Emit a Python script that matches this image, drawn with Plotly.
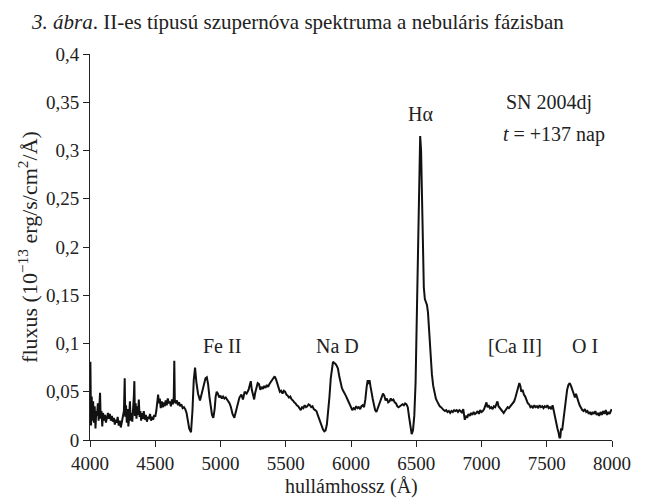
import plotly.graph_objects as go

wavelength = [
4000,4003,4008,4013,4018,4024,4030,4036,4042,4048,4054,4060,4066,4072,4077,4082,4088,4094,4100,4108,
4115,4122,4130,4138,4145,4152,4160,4168,4175,4183,4190,4198,4205,4212,4220,4228,4236,4244,4252,4260,
4266,4270,4276,4282,4288,4294,4300,4306,4312,4318,4324,4330,4336,4340,4344,4350,4356,4362,4368,4374,
4380,4386,4392,4398,4405,4412,4420,4428,4436,4444,4452,4460,4468,4476,4484,4492,4500,4508,4515,4522,
4528,4535,4542,4550,4558,4565,4572,4580,4588,4596,4604,4612,4620,4628,4636,4642,4646,4650,4658,4666,
4674,4682,4690,4700,4710,4720,4730,4740,4750,4760,4774,4785,4795,4805,4815,4828,4843,4855,4870,4885,
4895,4905,4915,4925,4935,4945,4955,4963,4971,4980,4990,5000,5010,5020,5030,5040,5050,5060,5070,5080,
5092,5106,5118,5130,5145,5160,5172,5185,5200,5215,5225,5232,5240,5250,5258,5266,5276,5285,5295,5305,
5315,5325,5335,5345,5355,5365,5375,5385,5395,5405,5415,5425,5435,5445,5455,5465,5475,5485,5495,5505,
5515,5525,5535,5545,5555,5565,5575,5585,5595,5605,5615,5625,5635,5645,5655,5665,5675,5685,5695,5705,
5715,5725,5735,5745,5755,5765,5775,5785,5795,5805,5815,5825,5835,5845,5855,5862,5870,5880,5890,5900,
5910,5920,5930,5940,5950,5960,5970,5980,5990,6000,6010,6020,6030,6040,6050,6060,6070,6080,6090,6100,
6110,6120,6128,6135,6142,6150,6158,6166,6175,6185,6195,6205,6215,6225,6235,6245,6255,6265,6275,6285,
6295,6305,6315,6325,6335,6345,6355,6365,6375,6385,6395,6405,6415,6425,6435,6445,6455,6465,6475,6485,
6495,6505,6515,6522,6530,6537,6543,6550,6558,6566,6574,6582,6590,6600,6610,6620,6630,6640,6650,6660,
6670,6680,6690,6700,6710,6720,6730,6740,6750,6760,6770,6780,6790,6800,6810,6820,6830,6840,6850,6860,
6866,6872,6880,6890,6900,6910,6920,6930,6940,6950,6960,6970,6980,6990,7000,7010,7020,7030,7038,7046,
7055,7065,7075,7085,7095,7105,7115,7122,7130,7140,7150,7160,7170,7180,7190,7200,7210,7220,7230,7240,
7250,7260,7270,7280,7290,7298,7305,7315,7325,7335,7345,7355,7365,7375,7385,7395,7405,7415,7425,7435,
7445,7455,7465,7475,7485,7495,7505,7515,7525,7535,7545,7553,7562,7572,7582,7590,7598,7604,7610,7618,
7626,7636,7646,7656,7666,7676,7686,7696,7706,7716,7724,7732,7742,7752,7762,7772,7782,7792,7802,7812,
7822,7832,7842,7852,7862,7872,7882,7892,7902,7912,7922,7932,7942,7952,7962,7972,7982,7990,7997,
]

flux = [
0.030,0.081,0.015,0.045,0.020,0.040,0.018,0.035,0.012,0.030,0.025,0.038,0.020,0.032,0.049,0.022,0.030,0.014,0.028,0.020,
0.026,0.018,0.024,0.028,0.022,0.027,0.020,0.025,0.019,0.023,0.016,0.021,0.018,0.024,0.015,0.020,0.013,0.018,0.022,0.030,
0.064,0.024,0.036,0.018,0.032,0.014,0.024,0.040,0.020,0.028,0.019,0.030,0.045,0.061,0.025,0.038,0.022,0.035,0.026,0.042,
0.024,0.030,0.020,0.028,0.022,0.030,0.021,0.026,0.019,0.024,0.022,0.027,0.020,0.024,0.021,0.026,0.024,0.030,0.040,0.047,
0.038,0.043,0.033,0.040,0.034,0.039,0.035,0.041,0.036,0.043,0.038,0.040,0.035,0.042,0.037,0.045,0.082,0.040,0.038,0.041,
0.036,0.039,0.035,0.037,0.033,0.034,0.032,0.028,0.020,0.012,0.008,0.030,0.062,0.075,0.060,0.048,0.041,0.048,0.058,0.064,
0.065,0.058,0.045,0.034,0.026,0.023,0.032,0.045,0.050,0.048,0.044,0.046,0.043,0.045,0.043,0.044,0.042,0.041,0.038,0.034,
0.027,0.023,0.030,0.038,0.044,0.047,0.042,0.050,0.048,0.052,0.058,0.061,0.052,0.044,0.042,0.049,0.055,0.059,0.058,0.052,
0.055,0.053,0.056,0.054,0.057,0.055,0.058,0.060,0.062,0.064,0.066,0.063,0.058,0.053,0.050,0.051,0.048,0.051,0.050,0.047,
0.046,0.044,0.045,0.042,0.041,0.039,0.038,0.036,0.035,0.033,0.031,0.034,0.033,0.036,0.034,0.035,0.037,0.036,0.034,0.035,
0.032,0.031,0.030,0.026,0.022,0.018,0.014,0.011,0.009,0.010,0.016,0.028,0.045,0.064,0.077,0.081,0.080,0.079,0.077,0.074,
0.066,0.058,0.054,0.051,0.049,0.046,0.043,0.040,0.036,0.034,0.031,0.033,0.032,0.035,0.033,0.034,0.032,0.035,0.036,0.034,
0.042,0.055,0.062,0.058,0.062,0.055,0.046,0.043,0.037,0.031,0.029,0.033,0.037,0.040,0.045,0.048,0.046,0.041,0.043,0.039,
0.040,0.043,0.041,0.042,0.039,0.038,0.035,0.034,0.035,0.036,0.037,0.036,0.038,0.037,0.034,0.024,0.012,0.006,0.010,0.025,
0.060,0.130,0.210,0.270,0.315,0.300,0.260,0.200,0.158,0.146,0.142,0.140,0.132,0.110,0.085,0.068,0.056,0.048,0.043,0.040,
0.037,0.035,0.034,0.032,0.031,0.030,0.031,0.029,0.030,0.028,0.030,0.029,0.031,0.030,0.031,0.029,0.031,0.030,0.028,0.032,
0.024,0.021,0.025,0.023,0.027,0.025,0.028,0.026,0.029,0.027,0.028,0.030,0.027,0.031,0.029,0.030,0.032,0.035,0.039,0.034,
0.036,0.033,0.034,0.032,0.035,0.034,0.037,0.040,0.035,0.033,0.031,0.029,0.028,0.030,0.032,0.034,0.033,0.035,0.036,0.038,
0.040,0.044,0.049,0.052,0.059,0.056,0.050,0.052,0.047,0.045,0.041,0.038,0.037,0.034,0.035,0.033,0.036,0.034,0.035,0.033,
0.036,0.034,0.035,0.033,0.035,0.034,0.036,0.033,0.034,0.032,0.036,0.030,0.026,0.018,0.012,0.008,0.002,0.003,0.012,0.010,
0.020,0.032,0.043,0.052,0.057,0.059,0.056,0.052,0.047,0.044,0.048,0.043,0.040,0.036,0.033,0.031,0.030,0.032,0.029,0.030,
0.027,0.029,0.026,0.029,0.027,0.030,0.026,0.028,0.025,0.029,0.026,0.030,0.027,0.031,0.026,0.029,0.027,0.030,0.032,
]

x_tickvals = [4000, 4500, 5000, 5500, 6000, 6500, 7000, 7500, 8000]
x_ticktext = ["4000", "4500", "5000", "5500", "6000", "6500", "7000", "7500", "8000"]
y_tickvals = [0, 0.05, 0.1, 0.15, 0.2, 0.25, 0.3, 0.35, 0.4]
y_ticktext = ["0", "0,05", "0,1", "0,15", "0,2", "0,25", "0,3", "0,35", "0,4"]

line_labels = ["Fe II", "Na D", "[Ca II]", "O I"]
line_label_x = [5010, 5900, 7260, 7790]
line_label_y = [0.097, 0.097, 0.097, 0.097]

FONT = "Liberation Serif"
TXT = "#222222"
PLOT_W = 522
PLOT_H = 386

fig = go.Figure()
fig.add_trace(go.Scatter(x=wavelength, y=flux, mode="lines",
                         line=dict(color="#111111", width=2), showlegend=False))

annotations = []
for lab, lx, ly in zip(line_labels, line_label_x, line_label_y):
    annotations.append(dict(x=lx, y=ly, text=lab, showarrow=False, xref="x", yref="y",
                            font=dict(family=FONT, size=20, color=TXT)))
annotations.append(dict(x=6530, y=0.338, text="Hα", showarrow=False,
                        font=dict(family=FONT, size=20, color=TXT)))
annotations.append(dict(x=7170, y=0.350, text="SN 2004dj", showarrow=False, xanchor="left",
                        font=dict(family=FONT, size=20, color=TXT)))
annotations.append(dict(x=7150, y=0.317, text="<i>t</i> = +137 nap", showarrow=False, xanchor="left",
                        font=dict(family=FONT, size=20, color=TXT)))
annotations.append(dict(x=-61 / PLOT_W, y=1 + 32 / PLOT_H, xref="paper", yref="paper",
                        showarrow=False, xanchor="left", yanchor="middle",
                        text="<i>3. ábra</i>. II-es típusú szupernóva spektruma a nebuláris fázisban",
                        font=dict(family=FONT, size=21, color=TXT)))
# x-axis title as an annotation so it fits inside the page
annotations.append(dict(x=0.5, y=-46 / PLOT_H, xref="paper", yref="paper",
                        showarrow=False, xanchor="center", yanchor="middle",
                        text="hullámhossz (Å)",
                        font=dict(family=FONT, size=20, color=TXT)))

# the page body adds an 8px margin, so the figure is sized to fit the 650x499 window
fig.update_layout(
    width=642, height=491,
    margin=dict(l=82, r=38, t=46, b=59),
    plot_bgcolor="white", paper_bgcolor="white",
    font=dict(family=FONT, size=20, color=TXT),
    annotations=annotations,
    xaxis=dict(range=[4000, 8000], tickvals=x_tickvals, ticktext=x_ticktext,
               showline=True, linecolor="#222222", linewidth=1, ticks="outside",
               ticklen=6, tickcolor="#222222", showgrid=False, zeroline=False,
               tickfont=dict(family=FONT, size=19, color=TXT)),
    yaxis=dict(range=[0, 0.4], tickvals=y_tickvals, ticktext=y_ticktext,
               showline=True, linecolor="#222222", linewidth=1, ticks="outside",
               ticklen=6, tickcolor="#222222", showgrid=False, zeroline=False,
               tickfont=dict(family=FONT, size=19, color=TXT),
               title=dict(text="fluxus (10<sup>−13</sup> erg/s/cm<sup>2</sup>/Å)", standoff=2,
                          font=dict(family=FONT, size=22, color=TXT))),
)

fig.write_html("out.html")
